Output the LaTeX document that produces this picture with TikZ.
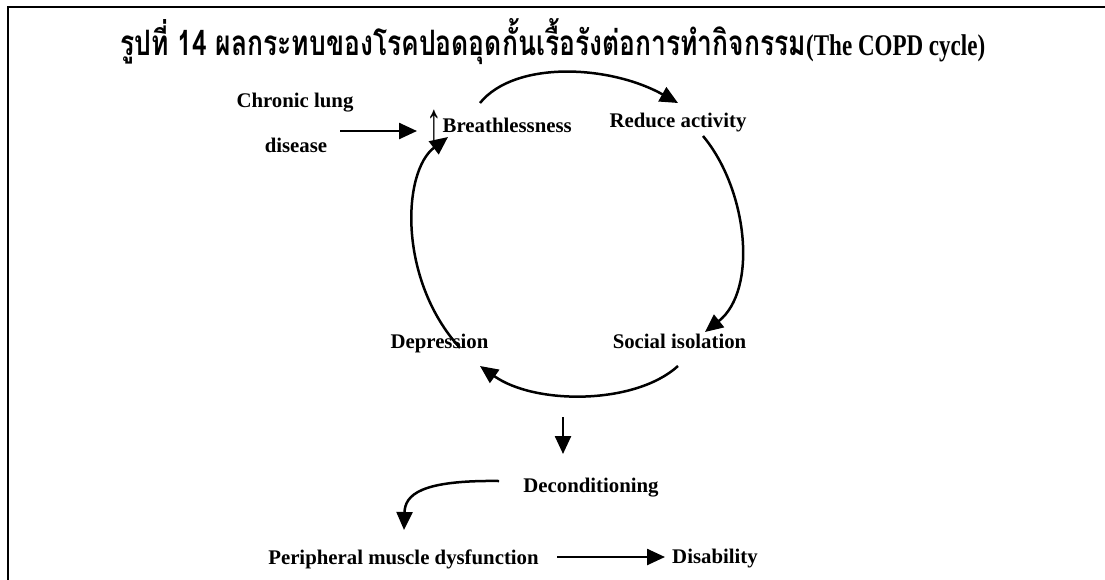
\documentclass[tikz,border=0pt]{standalone}
\usepackage{fontspec}
\setmainfont{Liberation Serif}
\newfontfamily\thaifont[Script=Thai]{Loma}
\usetikzlibrary{arrows.meta,calc}
\begin{document}
\begin{tikzpicture}[x=1pt,y=-1pt,
  lbl/.style={font=\bfseries\fontsize{20.8}{24}\selectfont, inner sep=0pt, anchor=base},
  arr/.style={line width=2.5pt, -{Triangle[length=18pt,width=16pt]}},
  frame/.style={line width=2pt}
]
\useasboundingbox (0,0) rectangle (1105,579);
\draw[frame] (8,582) -- (8,7) -- (1108,7);
\node[anchor=base west, inner sep=0pt] (title) at (120,55) {\resizebox{686pt}{\height}{\thaifont\bfseries\fontsize{35}{40}\selectfont รูปที่ 14 ผลกระทบของโรคปอดอุดกั้นเรื้อรังต่อการทำกิจกรรม}\resizebox{179pt}{\height}{\bfseries\fontsize{30}{34}\selectfont(The COPD cycle)}};
\node[lbl] (chronic) at (295,107) {Chronic lung};
\node[lbl] (disease) at (296,152) {disease};
\node[lbl, anchor=base west] (breath) at (425.5,132) {\makebox[17pt]{\mdseries\raisebox{-8pt}{\scalebox{1.5}[2.6]{↑}}}Breathlessness};
\node[lbl] (reduce) at (678,127) {Reduce activity};
\node[lbl] (depr) at (439.5,348) {Depression};
\node[lbl] (social) at (679.5,348) {Social isolation};
\node[lbl] (decond) at (591,492) {Deconditioning};
\node[lbl] (periph) at (403.5,564) {Peripheral muscle dysfunction};
\node[lbl] (disab) at (715,563) {Disability};
\coordinate (cycleout) at (563,417);
\draw[arr] ([shift={(44,-21)}]disease.base) -- ([shift={(-8.5,-1)}]breath.base west);
\draw[arr] ([shift={(54.5,-29)}]breath.base west) .. controls (515,60) and (610,65) .. ([shift={(0,-24)}]reduce.base);
\draw[arr] ([shift={(25,9)}]reduce.base) .. controls (748,190) and (758,290) .. ([shift={(25.5,-16)}]social.base);
\draw[arr] ([shift={(-1.5,18)}]social.base) .. controls (635,405) and (535,405) .. ([shift={(40.5,18)}]depr.base);
\draw[arr] ([shift={(20.5,0)}]depr.base) .. controls (398,280) and (402,172) .. ([shift={(22.5,5)}]breath.base west);
\draw[arr] (cycleout) -- ([shift={(-28,-38)}]decond.base);
\draw[arr] ([shift={(-92,-11)}]decond.base) .. controls (420,480) and (405,495) .. ([shift={(0.5,-34)}]periph.base);
\draw[arr] ([shift={(153.5,-7)}]periph.base) -- ([shift={(-50,-6)}]disab.base);
\end{tikzpicture}
\end{document}
